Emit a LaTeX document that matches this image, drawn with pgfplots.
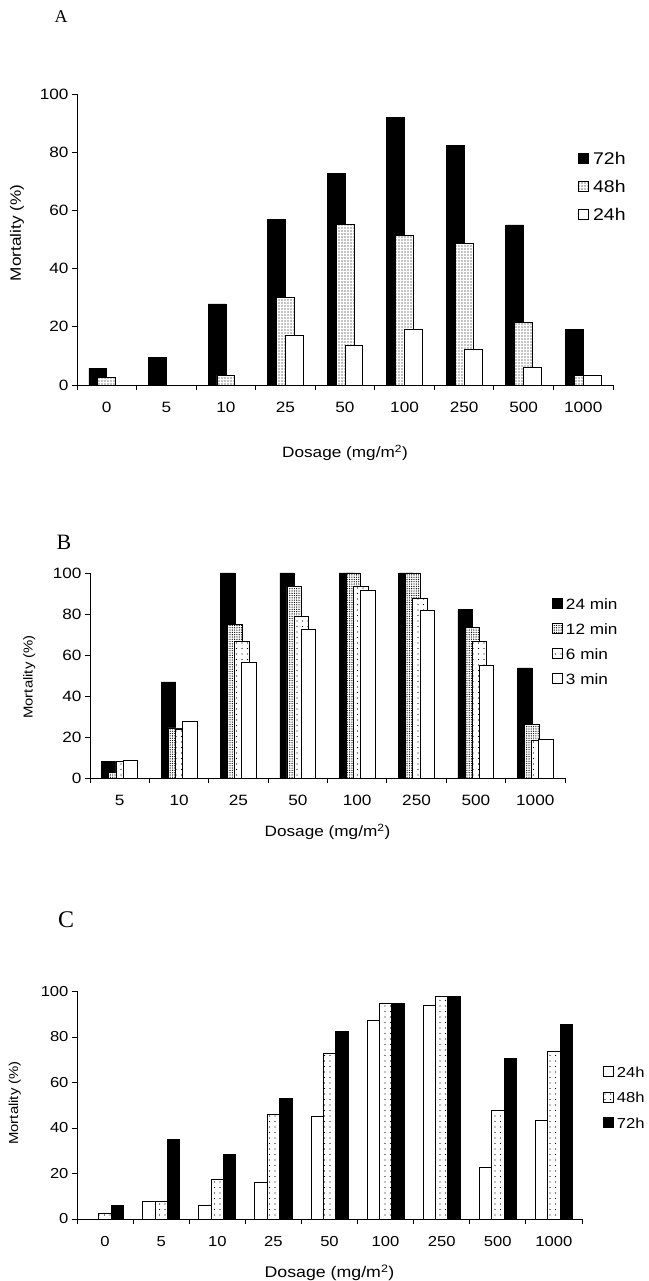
\documentclass[border=0pt]{standalone}
\usepackage{fontspec}
\setmainfont{Liberation Sans}[FakeStretch=1.15]
\newfontfamily\seriffont{Liberation Serif}
\usepackage{pgfplots}
\pgfplotsset{compat=1.18}
\usetikzlibrary{patterns.meta}

\pgfplotsset{
  excel/.style={
    scale only axis,
    axis x line*=bottom, axis y line*=left,
    axis line style={line width=0.8bp, black},
    xmin=-0.5, ymin=0, ymax=100, ytick={0,20,...,100},
    tick align=outside,
    major tick length=5bp, minor tick length=5bp,
    major x tick style={draw=none},
    minor x tick style={line width=0.8bp, black},
    ytick style={line width=0.8bp, black},
    xticklabel style={yshift=-9bp},
    /pgf/number format/assume math mode=true,
    legend image code/.code={\draw[##1] (0bp,-5bp) rectangle (10bp,5bp);},
    legend style={draw=none, fill=none, inner sep=0pt, anchor=north west,
      nodes={inner sep=0pt, text height=11bp, text depth=0bp}},
    legend cell align=left,
  },
  blk/.style={ybar, fill=black, draw=black, line width=0.6bp},
  wht/.style={ybar, fill=white, draw=black, line width=0.8bp},
  dotA/.style={ybar, fill=white, draw=black, line width=0.8bp,
    postaction={pattern={Dots[distance=3bp, radius=0.6bp]}}},
  dotDense/.style={ybar, fill=white, draw=black, line width=0.8bp,
    postaction={pattern={Dots[distance=2.3bp, radius=0.65bp]}}},
  dotSparse/.style={ybar, fill=white, draw=black, line width=0.8bp,
    postaction={pattern={Dots[distance=5.5bp, radius=0.7bp]}}},
}

\begin{document}
\begin{tikzpicture}
\path[use as bounding box] (0,0) rectangle (649bp,1281bp);

% ---------------- Panel A ----------------
\node[font=\seriffont\fontsize{18}{20}\selectfont] at (61bp,1264bp) {A};
\begin{axis}[excel,
  at={(77bp,896bp)}, anchor=south west, width=536bp, height=291bp,
  xmax=8.5, xtick={0,...,8},
  xticklabels={0,5,10,25,50,100,250,500,1000},
  minor xtick={-0.5,0.5,...,8.5},
  tick label style={font=\fontsize{15}{18}\selectfont},
  xlabel={Dosage (mg/m\textsuperscript{2})},
  ylabel={Mortality (\%)},
  xlabel style={font=\fontsize{15}{18}\selectfont, at={(axis description cs:0.5,0)}, anchor=center, yshift=-68bp},
  ylabel style={font=\fontsize{15}{18}\selectfont, at={(axis description cs:-0.112,0.522)}, anchor=center},
  legend style={at={(axis description cs:0.935,0.797)}, font=\fontsize{17}{18}\selectfont,
    row sep=17bp, column sep=4bp},
]
\addplot[blk, bar width=0.3, bar shift=-0.15] coordinates {
 (0,5.7) (1,9.4) (2,27.9) (3,57.0) (4,72.6) (5,92.0) (6,82.2) (7,55.0) (8,19.0)};
\addplot[dotA, bar width=0.3, bar shift=0] coordinates {
 (0,2.5) (2,3.4) (3,30.2) (4,55.1) (5,51.5) (6,48.7) (7,21.5) (8,3.4)};
\addplot[wht, bar width=0.3, bar shift=0.15] coordinates {
 (3,16.9) (4,13.7) (5,19.2) (6,12.3) (7,6.1) (8,3.4)};
\legend{72h,48h,24h}
\end{axis}

% ---------------- Panel B ----------------
\node[font=\seriffont\fontsize{22}{24}\selectfont] at (64bp,739bp) {B};
\begin{axis}[excel,
  at={(90bp,503bp)}, anchor=south west, width=475bp, height=205bp,
  xmax=7.5, xtick={0,...,7},
  xticklabels={5,10,25,50,100,250,500,1000},
  minor xtick={-0.5,0.5,...,7.5},
  tick label style={font=\fontsize{15}{18}\selectfont},
  xlabel={Dosage (mg/m\textsuperscript{2})},
  ylabel={Mortality (\%)},
  xlabel style={font=\fontsize{15}{18}\selectfont, at={(axis description cs:0.5,0)}, anchor=center, yshift=-54bp},
  ylabel style={font=\fontsize{13}{16}\selectfont, at={(axis description cs:-0.128,0.493)}, anchor=center},
  legend style={at={(axis description cs:0.9726,0.878)}, font=\fontsize{15}{16}\selectfont,
    row sep=14bp, column sep=3bp},
]
\addplot[blk, bar width=0.245, bar shift=-0.18] coordinates {
 (0,8.0) (1,46.9) (2,100) (3,100) (4,100) (5,100) (6,82.1) (7,53.7)};
\addplot[dotDense, bar width=0.245, bar shift=-0.06] coordinates {
 (0,2.9) (1,24.4) (2,74.9) (3,93.6) (4,100) (5,100) (6,73.6) (7,26.2)};
\addplot[dotSparse, bar width=0.245, bar shift=0.06] coordinates {
 (0,8.3) (1,23.9) (2,66.8) (3,79.0) (4,93.6) (5,87.6) (6,66.8) (7,18.3)};
\addplot[wht, bar width=0.245, bar shift=0.18] coordinates {
 (0,8.8) (1,27.7) (2,56.5) (3,72.5) (4,91.7) (5,81.9) (6,54.7) (7,18.7)};
\legend{24 min,12 min,6 min,3 min}
\end{axis}

% ---------------- Panel C ----------------
\node[font=\seriffont\fontsize{24}{26}\selectfont] at (66bp,361bp) {C};
\begin{axis}[excel,
  at={(77bp,62bp)}, anchor=south west, width=505bp, height=227.5bp,
  xmax=8.5, xtick={0,...,8},
  xticklabels={0,5,10,25,50,100,250,500,1000},
  minor xtick={-0.5,0.5,...,8.5},
  tick label style={font=\fontsize{14.5}{17}\selectfont},
  xlabel={Dosage (mg/m\textsuperscript{2})},
  ylabel={Mortality (\%)},
  xlabel style={font=\fontsize{15.5}{18}\selectfont, at={(axis description cs:0.5,0)}, anchor=center, yshift=-54bp},
  ylabel style={font=\fontsize{13}{16}\selectfont, at={(axis description cs:-0.123,0.51)}, anchor=center},
  legend style={at={(axis description cs:1.0416,0.6725)}, font=\fontsize{14.5}{16}\selectfont,
    row sep=14.5bp, column sep=3bp},
]
\addplot[wht, bar width=0.22, bar shift=-0.22] coordinates {
 (1,7.7) (2,6.1) (3,16.2) (4,45.0) (5,87.1) (6,94.1) (7,22.7) (8,43.5)};
\addplot[dotSparse, bar width=0.22, bar shift=0] coordinates {
 (0,2.5) (1,7.7) (2,17.4) (3,46.1) (4,72.7) (5,94.7) (6,97.9) (7,47.9) (8,73.8)};
\addplot[blk, bar width=0.22, bar shift=0.22] coordinates {
 (0,6.1) (1,34.9) (2,28.5) (3,53.1) (4,82.5) (5,94.7) (6,97.9) (7,70.7) (8,85.7)};
\legend{24h,48h,72h}
\end{axis}
\end{tikzpicture}
\end{document}
